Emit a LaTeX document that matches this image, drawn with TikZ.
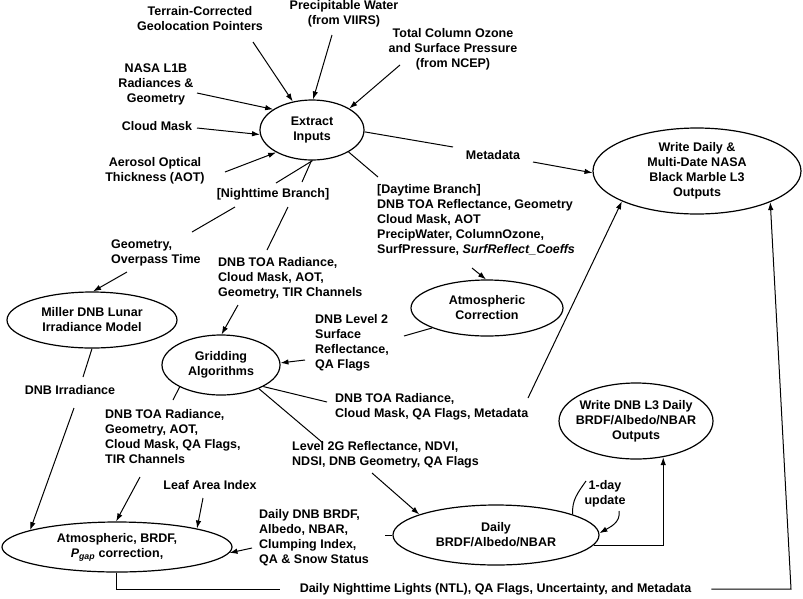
\documentclass[tikz,border=0pt]{standalone}
\usepackage{fontspec}
\setmainfont{Liberation Sans}
\usetikzlibrary{shapes.geometric,arrows.meta}
\begin{document}
\begin{tikzpicture}[x=1pt,y=-1pt,
  txt/.style={font=\fontsize{12.5}{15}\selectfont\bfseries, inner sep=0pt, align=center},
  ltxt/.style={txt, align=left, anchor=west},
  ell/.style={draw, ellipse, line width=1.2pt, inner sep=0pt},
  con/.style={line width=1pt},
  arr/.style={con, -{Latex[length=8pt,width=5.5pt]}}]
\useasboundingbox (0,0) rectangle (803,598);

% ellipses
\node[ell, minimum width=104pt, minimum height=60pt, label={[txt]center:{Extract\\Inputs}}] (ext) at (312,130) {};
\node[ell, minimum width=208pt, minimum height=86pt, label={[txt]center:{Write Daily \&\\Multi-Date NASA\\Black Marble L3\\Outputs}}] (nasa) at (697,171) {};
\node[ell, minimum width=170pt, minimum height=56pt, label={[txt]center:{Miller DNB Lunar\\Irradiance Model}}] (mil) at (92,320) {};
\node[ell, minimum width=118pt, minimum height=60pt, label={[txt]center:{Gridding\\Algorithms}}] (grid) at (221,365) {};
\node[ell, minimum width=152pt, minimum height=56pt, label={[txt]center:{Atmospheric\\Correction}}] (atc) at (487,308) {};
\node[ell, minimum width=154pt, minimum height=76pt, label={[txt]center:{Write DNB L3 Daily\\BRDF/Albedo/NBAR\\Outputs}}] (wl3) at (636,421) {};
\node[ell, minimum width=206pt, minimum height=60pt, label={[txt]center:{Daily\\BRDF/Albedo/NBAR}}] (dbr) at (496,535) {};
\node[ell, minimum width=230pt, minimum height=50pt, label={[txt]center:{Atmospheric, BRDF,\\\textit{P}\textsubscript{\textit{gap}} correction,}}] (abp) at (117,547) {};

% labels
\node[txt] (tcg) at (200,19) {Terrain-Corrected\\Geolocation Pointers};
\node[txt] (pw) at (344,14) {Precipitable Water\\(from VIIRS)};
\node[txt] (tco) at (453,49) {Total Column Ozone\\and Surface Pressure\\(from NCEP)};
\node[txt] (l1b) at (156,84) {NASA L1B\\Radiances \&\\Geometry};
\node[txt] (cm) at (157,126) {Cloud Mask};
\node[txt] (aot) at (155,171) {Aerosol Optical\\Thickness (AOT)};
\node[txt] (nb) at (273,194) {[Nighttime Branch]};
\node[ltxt] (geo) at (111,253) {Geometry,\\Overpass Time};
\node[ltxt] (ntoa) at (218,278) {DNB TOA Radiance,\\Cloud Mask, AOT,\\Geometry, TIR Channels};
\node[ltxt] (dbl) at (315,343) {DNB Level 2\\Surface\\Reflectance,\\QA Flags};
\node[ltxt] (day) at (377,220) {[Daytime Branch]\\DNB TOA Reflectance, Geometry\\Cloud Mask, AOT\\PrecipWater, ColumnOzone,\\SurfPressure, \textit{SurfReflect\_Coeffs}};
\node[txt] (meta) at (493,155) {Metadata};
\node[txt] (irr) at (70,390) {DNB Irradiance};
\node[ltxt] (gtoa) at (105,437) {DNB TOA Radiance,\\Geometry, AOT,\\Cloud Mask, QA Flags,\\TIR Channels};
\node[ltxt] (gmeta) at (335,407) {DNB TOA Radiance,\\Cloud Mask, QA Flags, Metadata};
\node[ltxt] (l2g) at (292,455) {Level 2G Reflectance, NDVI,\\NDSI, DNB Geometry, QA Flags};
\node[txt] (lai) at (210,485) {Leaf Area Index};
\node[ltxt] (ddnb) at (259,538) {Daily DNB BRDF,\\Albedo, NBAR,\\Clumping Index,\\QA \& Snow Status};
\node[txt] (upd) at (605,494) {1-day\\update};
\node[txt, inner xsep=20pt] (ntl) at (495.5,589) {Daily Nighttime Lights (NTL), QA Flags, Uncertainty, and Metadata};

% free ends
\coordinate (tcgA) at (253,42);
\coordinate (pwA) at (332,35);
\coordinate (tcoA) at (400,65);
\coordinate (l1bA) at (197,93);
\coordinate (cmA) at (197,128);
\coordinate (aotA) at (225,172);
\coordinate (nbA) at (276,183);
\coordinate (nbB) at (302,182);
\coordinate (nbC) at (235,207);
\coordinate (geoT) at (192,232);
\coordinate (nbD) at (288,207);
\coordinate (ntoaT) at (267,250);
\coordinate (geoA) at (127,272);
\coordinate (ntoaA) at (238,305);
\coordinate (dblT) at (404,336);
\coordinate (dblA) at (305,360);
\coordinate (dayT) at (378,177);
\coordinate (dayA) at (472,268);
\coordinate (metaT) at (453,147);
\coordinate (metaA) at (533,162);
\coordinate (irrT) at (83,377);
\coordinate (irrA) at (74,408);
\coordinate (gtoaT) at (173,400);
\coordinate (gtoaA) at (140,477);
\coordinate (gmetaT) at (327,402);
\coordinate (gmetaA) at (528,398);
\coordinate (l2gT) at (323,443);
\coordinate (l2gA) at (372,473);
\coordinate (laiA) at (203,498);
\coordinate (ddnbT) at (385,535);
\coordinate (ddnbA) at (252,548);
\coordinate (updA) at (586,481);
\coordinate (updB) at (619,511);
\coordinate (cr) at (791,589);

% connectors
\draw[arr] (tcgA) -- (ext.124);
\draw[arr] (pwA) -- (ext.88);
\draw[arr] (tcoA) -- (ext.30);
\draw[arr] (l1bA) -- (ext.152);
\draw[arr] (cmA) -- (ext.185);
\draw[arr] (aotA) -- (ext.212);
\draw[con] (ext.271) -- (nbA);
\draw[con] (ext.269) -- (nbB);
\draw[con] (nbC) -- (geoT);
\draw[con] (nbD) -- (ntoaT);
\draw[arr] (geoA) -- (mil.88);
\draw[arr] (ntoaA) -- (grid.89);
\draw[con] (atc.200) -- (dblT);
\draw[arr] (dblA) -- (grid.2);
\draw[con] (ext.329) -- (dayT);
\draw[arr] (dayA) -- (atc.92);
\draw[con] (ext.358) -- (metaT);
\draw[arr] (metaA) -- (nasa.181);
\draw[con] (mil.270) -- (irrT);
\draw[arr] (irrA) -- (abp.169);
\draw[con] (grid.208) -- (gtoaT);
\draw[arr] (gtoaA) -- (abp.92);
\draw[con] (grid.333) -- (gmetaT);
\draw[arr] (gmetaA) -- (nasa.202);
\draw[con] (grid.328) -- (l2gT);
\draw[arr] (l2gA) -- (dbr.165);
\draw[arr] (laiA) -- (abp.13);
\draw[con] (dbr.180) -- (ddnbT);
\draw[arr] (ddnbA) -- (abp.-3);
\draw[con] (dbr.15) to[out=95,in=235] (updA);
\draw[arr] (updB) to[out=-80,in=30] (dbr.1);
\draw[arr] (dbr.354) -| (wl3.-53);
\draw[con] (abp.268) |- (ntl.west);
\draw[arr] (ntl.east) -- (ntl.east -| cr) -- (nasa.337);
\end{tikzpicture}
\end{document}
